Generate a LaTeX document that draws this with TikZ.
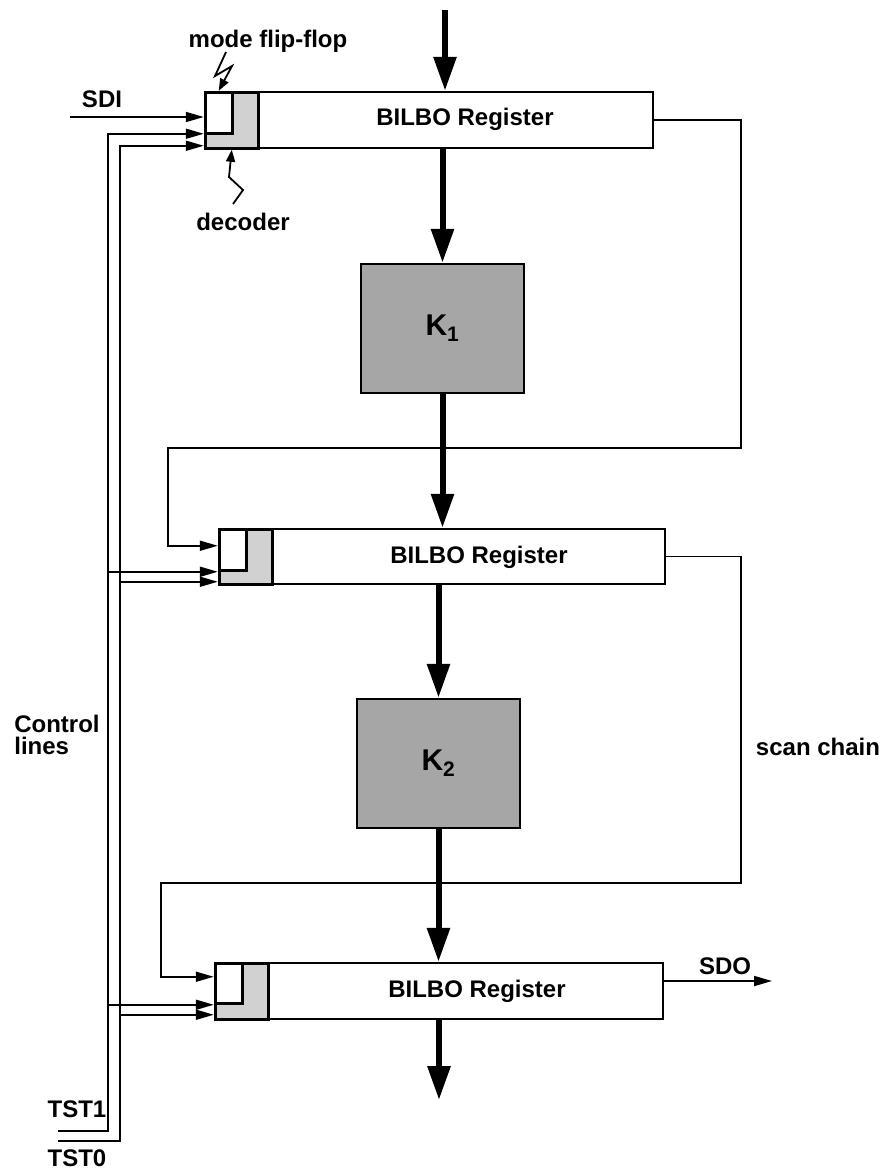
\documentclass[tikz,border=0pt]{standalone}
\usepackage{fontspec}
\setmainfont{Liberation Sans}
\usetikzlibrary{arrows.meta}
\usetikzlibrary{positioning}

\begin{document}
\begin{tikzpicture}[
        x=1pt, y=-1pt,
        font=\fontsize{24}{22}\selectfont\bfseries,
        % the register outline
        regbox/.style={rectangle, draw, line width=2.5pt, inner sep=0pt, minimum height=56pt},
        % shaded decoder part at the left end of a register
        decbox/.style={rectangle, draw, line width=3pt, fill=black!18, inner sep=0pt, minimum width=53pt, minimum height=56pt, anchor=north west},
        % mode flip-flop inside the decoder
        ffbox/.style={rectangle, draw, line width=3pt, fill=white, inner sep=0pt, minimum width=27pt, minimum height=41pt, anchor=north west},
        % combinational blocks
        combox/.style={rectangle, draw, line width=2.5pt, fill=black!35, inner sep=0pt, minimum width=163pt, minimum height=129pt, font=\fontsize{30}{30}\selectfont\bfseries},
        txt/.style={inner sep=0pt},
        wire/.style={line width=1.8pt},
        sig/.style={wire, -{Triangle[length=18pt, width=10pt]}},
        bolt/.style={wire, -{Triangle[length=12pt, width=9pt]}},
        databus/.style={line width=6pt, -{Triangle[length=34pt, width=22pt]}}
    ]
    \useasboundingbox (0,0) rectangle (888,1175);

    % --- registers ---
    \node[regbox, minimum width=448pt] (R1) at (429,120) {};
    \node[decbox] (D1) at (R1.north west) {};
    \node[ffbox] (F1) at (R1.north west) {};
    \node[txt] (L1) at (465,119) {BILBO Register};

    \node[regbox, minimum width=446pt, minimum height=55pt] (R2) at (442,556.5) {};
    \node[decbox, minimum height=55pt] (D2) at (R2.north west) {};
    \node[ffbox] (F2) at (R2.north west) {};
    \node[txt] (L2) at (479,557) {BILBO Register};

    \node[regbox, minimum width=448pt] (R3) at (439,991) {};
    \node[decbox] (D3) at (R3.north west) {};
    \node[ffbox, minimum height=40pt] (F3) at (R3.north west) {};
    \node[txt] (L3) at (477,991) {BILBO Register};

    % --- combinational blocks ---
    \node[combox] (K1) at (442.5,328.5) {K\textsubscript{1}};
    \node[combox] (K2) at (438.5,763.5) {K\textsubscript{2}};

    % --- data path ---
    \coordinate (din) at (445,10);
    \coordinate (dout) at (439,1100);
    \draw[databus] (din) -- (din |- R1.north);
    \draw[databus] (R1.south -| K1.north) -- (K1.north);
    \draw[databus] (K1.south) -- (K1.south |- R2.north);
    \draw[databus] (R2.south -| K2.north) -- (K2.north);
    \draw[databus] (K2.south) -- (K2.south |- R3.north);
    \draw[databus] (R3.south -| dout) -- (dout);

    % --- scan chain ---
    \coordinate (sdi) at (70,117);
    \coordinate (sdo) at (772,981);
    \coordinate (S2) at ([yshift=-18pt]R2.north west);
    \coordinate (S3) at ([yshift=-15pt]R3.north west);
    \draw[sig] (sdi) -- (sdi -| R1.west);
    \draw[sig] (R1.east) -| (741,448) -| ([xshift=-50pt]S2) -- (S2);
    \draw[sig] (R2.east) -| (741,883) -| ([xshift=-53pt]S3) -- (S3);
    \draw[sig] ([yshift=10pt]R3.east) -- (sdo);

    % --- control lines ---
    \coordinate (tst1) at (58,1131);
    \coordinate (tst0) at (58,1141);
    \coordinate (B1) at (108,1131);
    \coordinate (B0) at (120,1141);
    \coordinate (C1a) at ([yshift=-43pt]R1.north west);
    \coordinate (C1b) at ([yshift=-55pt]R1.north west);
    \coordinate (C2a) at ([yshift=-44pt]R2.north west);
    \coordinate (C2b) at ([yshift=-54pt]R2.north west);
    \coordinate (C3a) at ([yshift=-43pt]R3.north west);
    \coordinate (C3b) at ([yshift=-53pt]R3.north west);
    \draw[sig] (tst1) -- (B1) |- (C1a);
    \draw[sig] (tst0) -- (B0) |- (C1b);
    \draw[sig] (B1 |- C2a) -- (C2a);
    \draw[sig] (B0 |- C2b) -- (C2b);
    \draw[sig] (B1 |- C3a) -- (C3a);
    \draw[sig] (B0 |- C3b) -- (C3b);

    % --- pointers to flip-flop and decoder ---
    \draw[bolt] (226,52) -- (215,76) -- (232,66) -- (F1.north);
    \draw[bolt] (233,204) -- (243,190) -- (229,177) -- (D1.south);

    % --- labels ---
    \node[txt] (lff) at (268,41) {mode flip-flop};
    \node[txt] (ldec) at (243,222) {decoder};
    \node[txt] (lsdi) at (102,99) {SDI};
    \node[txt] (lsdo) at (725,966) {SDO};
    \node[txt] (ltst1) at (77,1109) {TST1};
    \node[txt] (ltst0) at (77,1158) {TST0};
    \node[txt, align=left] (lctrl) at (57,735) {Control\\lines};
    \node[txt] (lscan) at (818,747) {scan chain};

\end{tikzpicture}
\end{document}
